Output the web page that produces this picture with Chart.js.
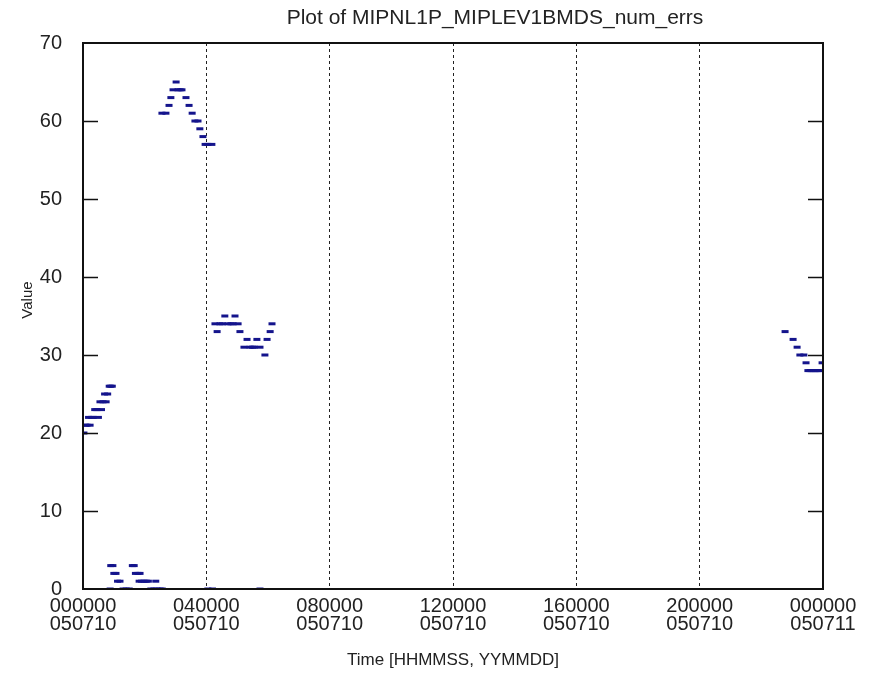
<!DOCTYPE html>
<html>
<head>
<meta charset="utf-8">
<script src="https://cdn.jsdelivr.net/npm/chart.js@4"></script>
<style>
  body { margin: 0; background: #fff; }
  canvas { display: block; }
</style>
</head>
<body>
<canvas id="errChart" width="873" height="687"></canvas>
<script>
// Time in hours since 000000 on 050710, value = number of errors
const rampHours  = [0.03, 0.08, 0.13, 0.18, 0.23, 0.28, 0.33, 0.38, 0.45, 0.50, 0.55, 0.60, 0.65, 0.70, 0.75, 0.80, 0.85, 0.90, 0.95];
const rampValues = [20, 21, 21, 22, 21, 22, 22, 23, 23, 22, 24, 23, 24, 25, 24, 25, 26, 26, 26];

const lowHours  = [0.88, 0.90, 0.97, 1.00, 1.07, 1.12, 1.20, 1.30, 1.40, 1.50, 1.60, 1.66, 1.70, 1.78, 1.85, 1.82, 1.90, 1.98, 2.05, 2.12, 2.20, 2.30, 2.36, 2.40, 2.50, 2.57, 4.05, 4.20, 5.74];
const lowValues = [0, 3, 3, 2, 2, 1, 1, 0, 0, 0, 3, 3, 2, 2, 2, 1, 1, 1, 1, 1, 0, 0, 1, 0, 0, 0, 0, 0, 0];

const peakHours  = [2.56, 2.69, 2.79, 2.85, 2.92, 3.02, 3.08, 3.15, 3.21, 3.34, 3.44, 3.54, 3.63, 3.73, 3.79, 3.89, 3.96, 4.05, 4.18];
const peakValues = [61, 61, 62, 63, 64, 65, 64, 64, 64, 63, 62, 61, 60, 60, 59, 58, 57, 57, 57];

const midHours  = [4.28, 4.35, 4.44, 4.52, 4.60, 4.70, 4.80, 4.87, 4.93, 5.03, 5.09, 5.22, 5.32, 5.42, 5.50, 5.55, 5.64, 5.74, 5.90, 5.97, 6.07, 6.13];
const midValues = [34, 33, 34, 34, 35, 34, 34, 34, 35, 34, 33, 31, 32, 31, 31, 31, 32, 31, 30, 32, 33, 34];

const lateHours  = [22.77, 23.03, 23.16, 23.25, 23.38, 23.45, 23.51, 23.58, 23.64, 23.71, 23.77, 23.84, 23.90, 23.97];
const lateValues = [33, 32, 31, 30, 30, 29, 28, 28, 28, 28, 28, 28, 28, 29];

const timeLabels = ['000000', '040000', '080000', '120000', '160000', '200000', '000000'];
const dateLabels = ['050710', '050710', '050710', '050710', '050710', '050710', '050711'];
const yTicks = [0, 10, 20, 30, 40, 50, 60, 70];

const FONT = '"Liberation Sans", Arial, sans-serif';

function toPoints(xs, ys) {
  return xs.map((x, i) => ({ x: x, y: ys[i] }));
}

const allPoints = []
  .concat(toPoints(rampHours, rampValues))
  .concat(toPoints(lowHours, lowValues))
  .concat(toPoints(peakHours, peakValues))
  .concat(toPoints(midHours, midValues))
  .concat(toPoints(lateHours, lateValues));

// frame, inward ticks on both y sides, title and rotated y title
const framePlugin = {
  id: 'frame',
  afterDraw(chart) {
    const ctx = chart.ctx;
    const a = chart.chartArea;
    const ys = chart.scales.y;
    ctx.save();
    ctx.strokeStyle = '#111';
    ctx.lineWidth = 1.5;
    yTicks.forEach(v => {
      if (v === 0 || v === 70) return;
      const py = Math.round(ys.getPixelForValue(v)) + 0.5;
      ctx.beginPath();
      ctx.moveTo(a.left, py); ctx.lineTo(a.left + 15, py);
      ctx.moveTo(a.right - 15, py); ctx.lineTo(a.right, py);
      ctx.stroke();
    });
    ctx.lineWidth = 2;
    ctx.strokeRect(a.left, a.top, a.right - a.left, a.bottom - a.top);

    ctx.fillStyle = '#222';
    ctx.textAlign = 'center';
    ctx.textBaseline = 'middle';
    ctx.font = '21px ' + FONT;
    ctx.fillText('Plot of MIPNL1P_MIPLEV1BMDS_num_errs', 495, 18);

    ctx.translate(28, 300);
    ctx.rotate(-Math.PI / 2);
    ctx.font = '15px ' + FONT;
    ctx.fillText('Value', 0, 0);
    ctx.restore();
  }
};

new Chart(document.getElementById('errChart'), {
  type: 'scatter',
  data: {
    datasets: [{
      label: 'num_errs',
      data: allPoints,
      pointStyle: 'line',
      pointRadius: 3.5,
      pointBorderWidth: 3,
      borderColor: '#14148c',
      backgroundColor: '#14148c',
      showLine: false
    }]
  },
  options: {
    responsive: false,
    animation: false,
    devicePixelRatio: 1,
    layout: { padding: { left: 0, right: 50, top: 43, bottom: 0 } },
    plugins: {
      legend: { display: false },
      tooltip: { enabled: false },
      title: { display: false }
    },
    scales: {
      x: {
        type: 'linear',
        min: 0,
        max: 24,
        afterFit: s => { s.height = 98; },
        afterBuildTicks: s => { s.ticks = timeLabels.map((t, i) => ({ value: i * 4 })); },
        ticks: {
          color: '#222',
          padding: 8,
          maxRotation: 0,
          font: { family: FONT, size: 20, lineHeight: 0.9 },
          callback: (v, i) => [timeLabels[i], dateLabels[i]]
        },
        grid: {
          drawTicks: false,
          lineWidth: 1,
          color: ctx => (ctx.tick && (ctx.tick.value === 0 || ctx.tick.value === 24)) ? 'rgba(0,0,0,0)' : '#222'
        },
        border: { display: false, dash: [3, 3] },
        title: {
          display: true,
          text: 'Time [HHMMSS, YYMMDD]',
          color: '#222',
          font: { family: FONT, size: 17 },
          padding: { top: 0, bottom: 16 }
        }
      },
      y: {
        min: 0,
        max: 70,
        afterFit: s => { s.width = 83; },
        afterBuildTicks: s => { s.ticks = yTicks.map(v => ({ value: v })); },
        ticks: {
          color: '#222',
          padding: 13,
          font: { family: FONT, size: 20 }
        },
        grid: { display: false },
        border: { display: false }
      }
    }
  },
  plugins: [framePlugin]
});
</script>
</body>
</html>
